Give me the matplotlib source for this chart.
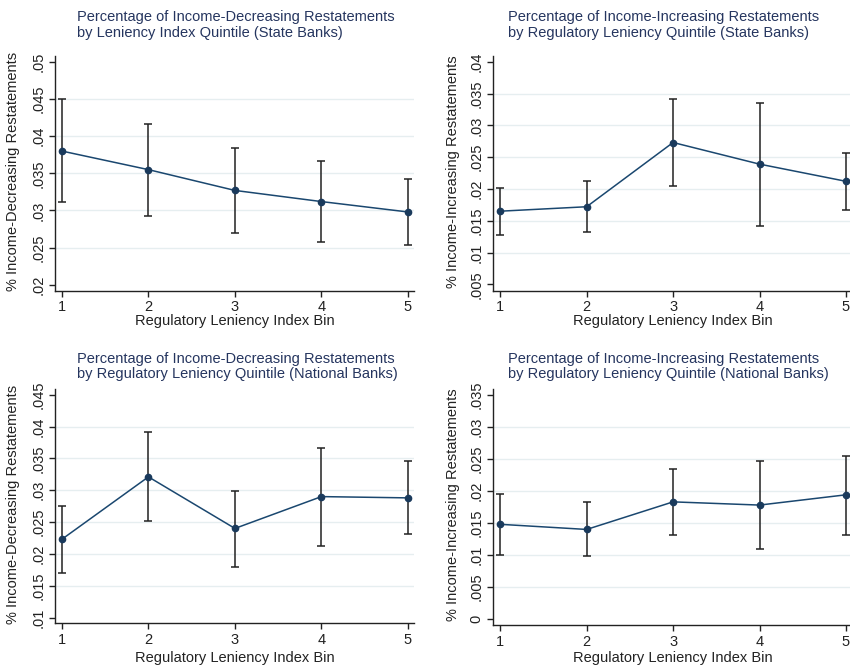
import numpy as np
import matplotlib
matplotlib.use("Agg")
import matplotlib.pyplot as plt

plt.rcParams['font.family'] = ['Liberation Sans', 'DejaVu Sans']

bins = [1, 2, 3, 4, 5]

# state banks, income-decreasing
dec_state = [0.0380, 0.0355, 0.0327, 0.0312, 0.0298]
dec_state_hi = [0.0450, 0.0417, 0.0384, 0.0366, 0.0343]
dec_state_lo = [0.0311, 0.0293, 0.0270, 0.0257, 0.0253]

# state banks, income-increasing
inc_state = [0.0165, 0.0172, 0.0273, 0.0239, 0.0212]
inc_state_hi = [0.0202, 0.0212, 0.0342, 0.0335, 0.0257]
inc_state_lo = [0.0127, 0.0132, 0.0204, 0.0142, 0.0167]

# national banks, income-decreasing
dec_nat = [0.0223, 0.0321, 0.0240, 0.0290, 0.0288]
dec_nat_hi = [0.0275, 0.0391, 0.0299, 0.0367, 0.0346]
dec_nat_lo = [0.0170, 0.0252, 0.0180, 0.0213, 0.0231]

# national banks, income-increasing
inc_nat = [0.0148, 0.0140, 0.0183, 0.0178, 0.0194]
inc_nat_hi = [0.0195, 0.0183, 0.0235, 0.0246, 0.0255]
inc_nat_lo = [0.0100, 0.0098, 0.0132, 0.0110, 0.0132]

titles = [
    "Percentage of Income-Decreasing Restatements\nby Leniency Index Quintile (State Banks)",
    "Percentage of Income-Increasing Restatements\nby Regulatory Leniency Quintile (State Banks)",
    "Percentage of Income-Decreasing Restatements\nby Regulatory Leniency Quintile (National Banks)",
    "Percentage of Income-Increasing Restatements\nby Regulatory Leniency Quintile (National Banks)",
]
ylabels = ["% Income-Decreasing Restatements", "% Income-Increasing Restatements",
           "% Income-Decreasing Restatements", "% Income-Increasing Restatements"]
yticks = [
    [0.02, 0.025, 0.03, 0.035, 0.04, 0.045, 0.05],
    [0.005, 0.01, 0.015, 0.02, 0.025, 0.03, 0.035, 0.04],
    [0.01, 0.015, 0.02, 0.025, 0.03, 0.035, 0.04, 0.045],
    [0, 0.005, 0.01, 0.015, 0.02, 0.025, 0.03, 0.035],
]
ylims = [(0.0192, 0.0508), (0.0040, 0.0409), (0.0091, 0.0459), (-0.0009, 0.0359)]
series = [
    (dec_state, dec_state_lo, dec_state_hi),
    (inc_state, inc_state_lo, inc_state_hi),
    (dec_nat, dec_nat_lo, dec_nat_hi),
    (inc_nat, inc_nat_lo, inc_nat_hi),
]

# axes boxes in pixels: left, top, right, bottom
boxes = [(55, 56, 414, 290.7), (493.3, 56, 852, 290.7),
         (55, 389, 414, 623.3), (493.3, 389, 852, 625)]
title_pos = [(235.5, 25), (663.5, 25), (237, 366.5), (668, 366.5)]
xlabel_pos = [(234.5, 321), (672.5, 321), (234.5, 658), (672.5, 658)]

W, H = 850, 668
navy = '#1a476f'
title_col = '#25355f'
grid_col = '#e6eef0'


def fmt(v):
    if v == 0:
        return '0'
    s = ('%.3f' % v).rstrip('0')
    return s.lstrip('0')


fig = plt.figure(figsize=(8.5, 6.68), dpi=100)

for i in range(4):
    l, t, r, b = boxes[i]
    ax = fig.add_axes([l / W, 1 - b / H, (r - l) / W, (b - t) / H])
    y, lo, hi = series[i]
    y = np.array(y)
    err = [y - np.array(lo), np.array(hi) - y]
    ax.errorbar(bins, y, yerr=err, fmt='none', ecolor='#222222', elinewidth=1.1,
                capsize=3, capthick=1.1, zorder=2)
    ax.plot(bins, y, color=navy, lw=1.1, marker='o', ms=4.5, mfc='#1a3a5c',
            mec='#1a3a5c', zorder=3)

    ax.set_xlim(0.92, 5.07)
    ax.set_ylim(*ylims[i])
    ax.set_xticks(bins)
    ax.set_yticks(yticks[i])
    ax.set_yticklabels([fmt(v) for v in yticks[i]], rotation=90, va='center')
    for v in yticks[i][1:-1]:
        ax.axhline(v, color=grid_col, lw=1.0, zorder=0)

    for s in ['top', 'right']:
        ax.spines[s].set_visible(False)
    for s in ['left', 'bottom']:
        ax.spines[s].set_color('#222222')
        ax.spines[s].set_linewidth(1.0)
    ax.tick_params(axis='both', length=4, width=1.0, color='#222222',
                   labelsize=10.5, labelcolor='#222222', pad=3)

    tx, ty = title_pos[i]
    fig.text(tx / W, 1 - ty / H, titles[i], ha='center', va='center',
             multialignment='left', fontsize=10.5, color=title_col, linespacing=1.12)
    xx, xy = xlabel_pos[i]
    fig.text(xx / W, 1 - xy / H, "Regulatory Leniency Index Bin",
             ha='center', va='center', fontsize=10.5, color='#222222')
    ylx = 13.3 if i in (0, 2) else 453.3
    yly = (t + b) / 2 - 2
    fig.text(ylx / W, 1 - yly / H, ylabels[i], ha='center', va='center',
             rotation=90, fontsize=10.5, color='#222222')

fig.savefig('out.png', dpi=100, facecolor='white')
